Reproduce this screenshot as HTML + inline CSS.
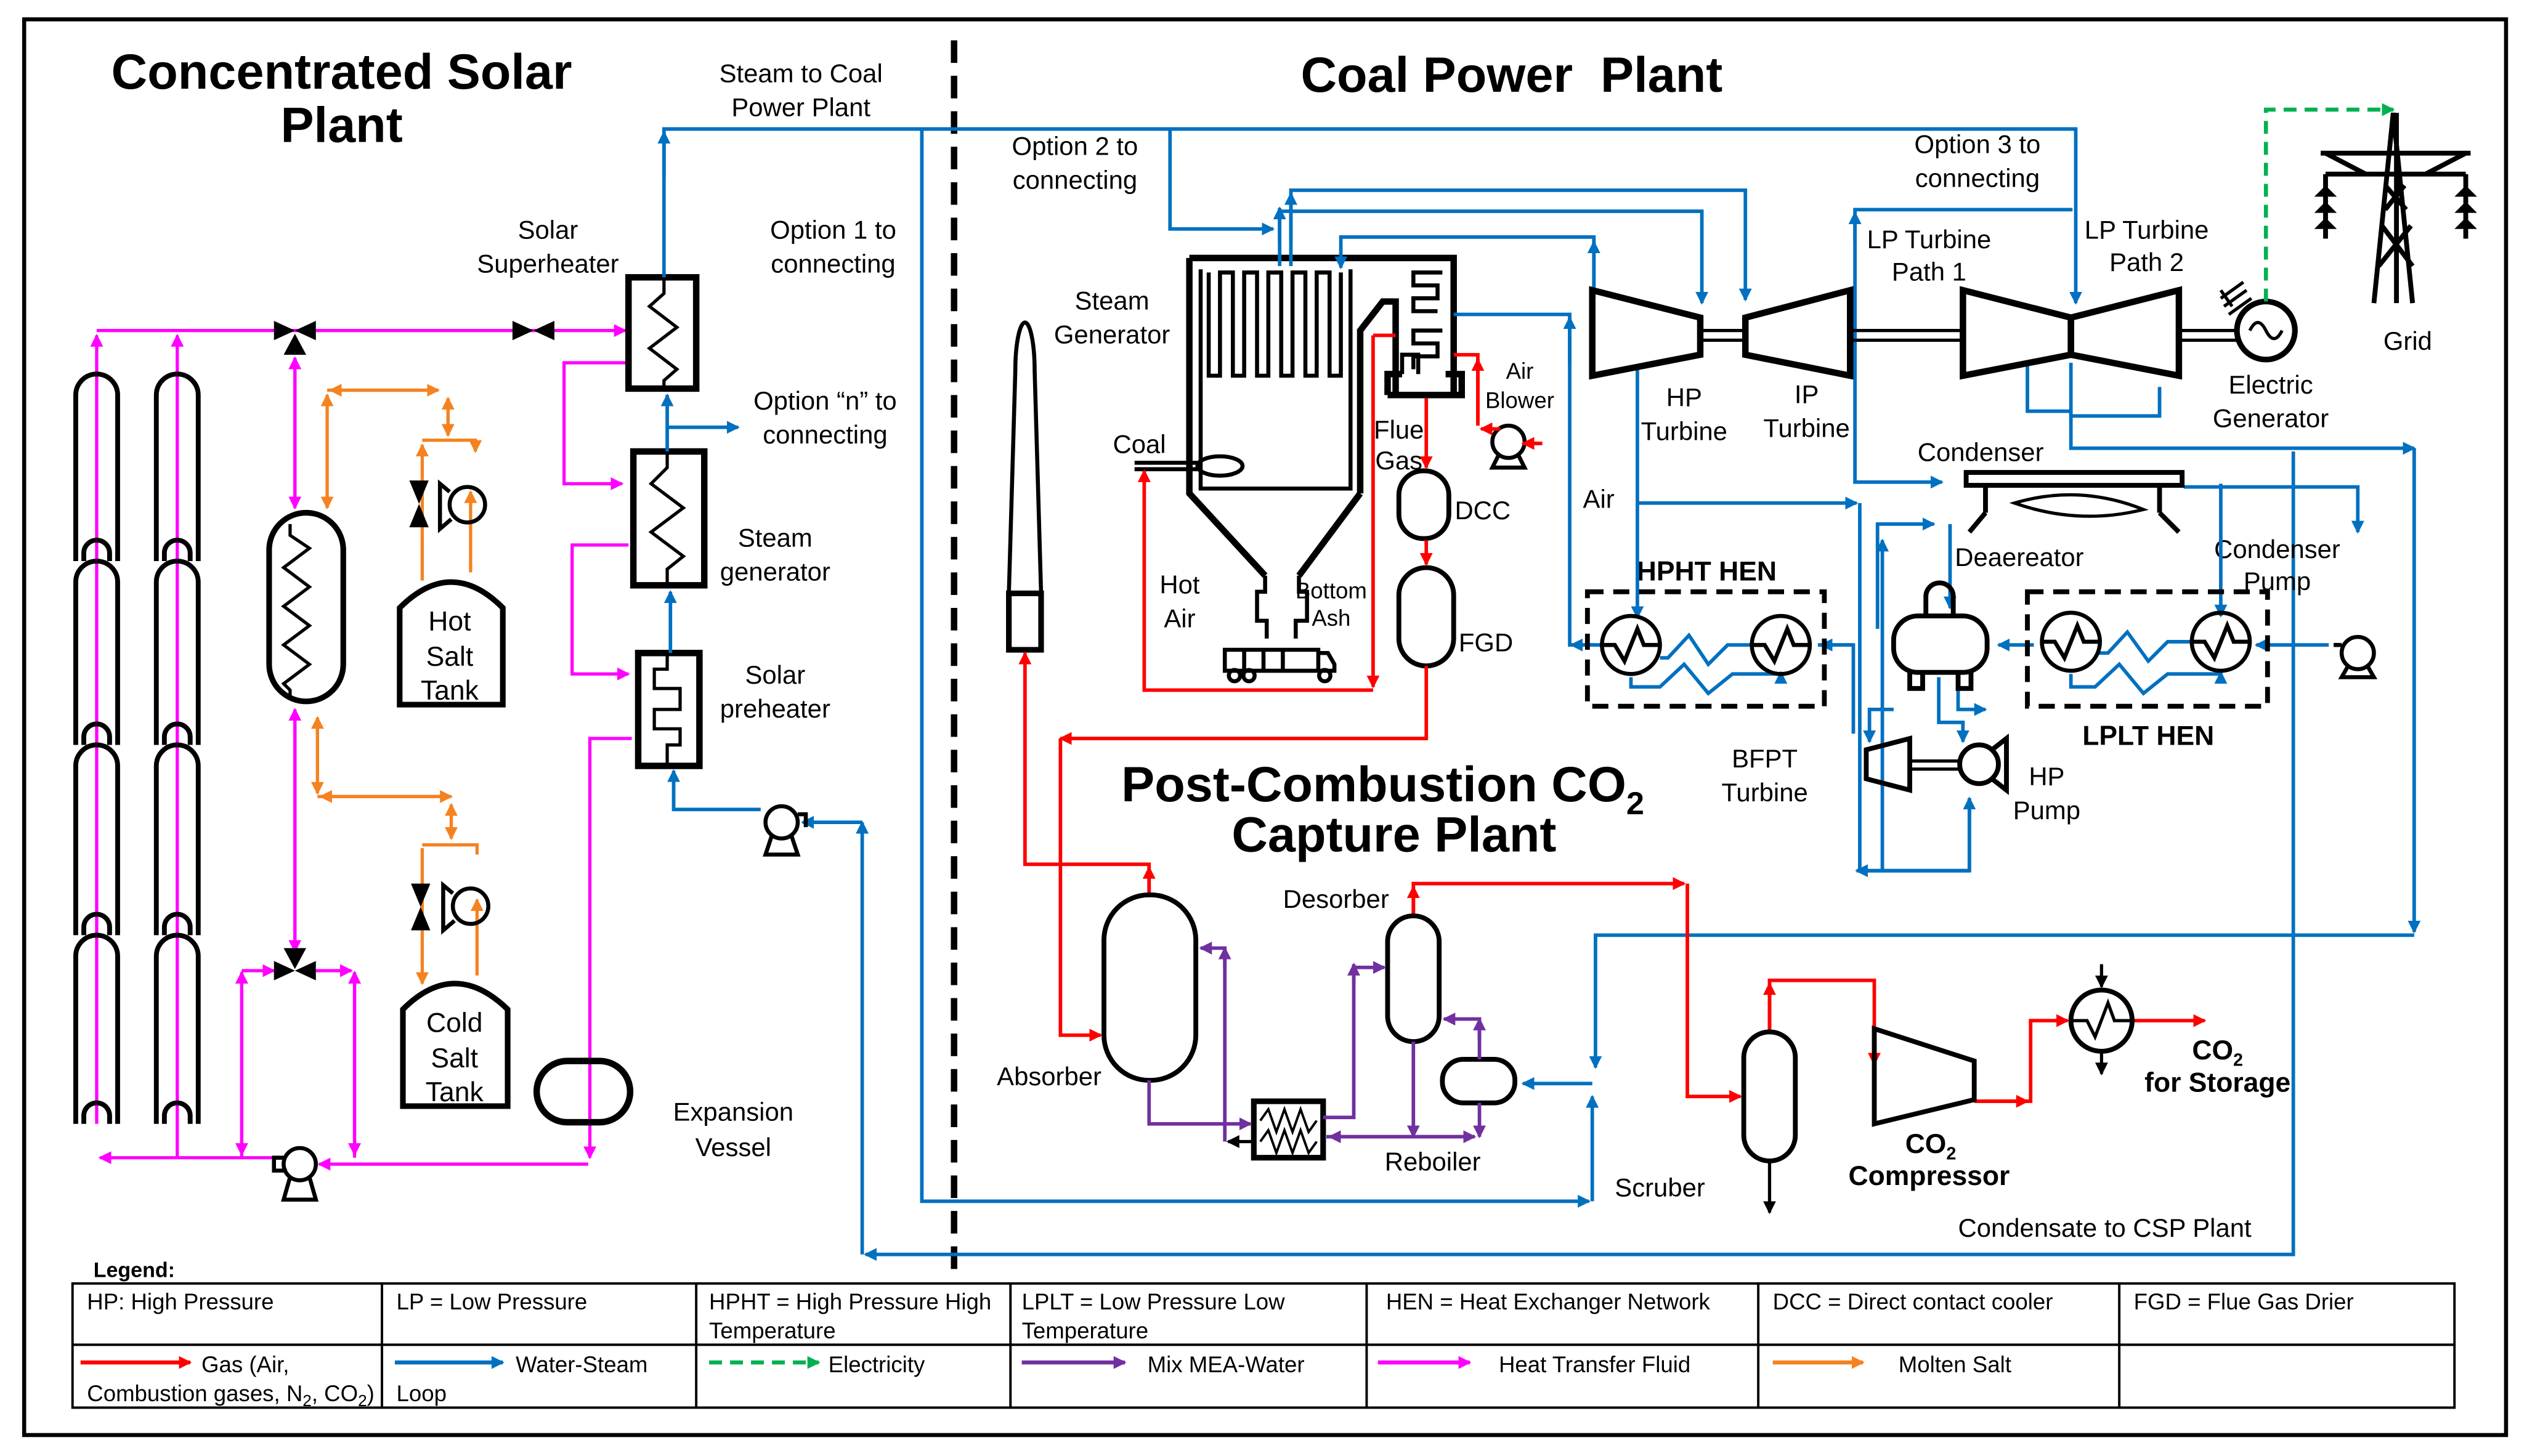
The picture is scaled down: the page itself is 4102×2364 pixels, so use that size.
<!DOCTYPE html>
<html><head><meta charset="utf-8"><style>
html,body{margin:0;padding:0;background:#fff;}
svg{display:block}
text{font-family:"Liberation Sans",sans-serif;}
</style></head><body>
<svg width="4102" height="2364" viewBox="0 0 1568 903" preserveAspectRatio="none" xmlns="http://www.w3.org/2000/svg">
<defs>
<marker id="mb" markerWidth="8" markerHeight="8" refX="7" refY="4" orient="auto" markerUnits="userSpaceOnUse"><path d="M0,0 L8,4 L0,8z" fill="#0070c0"/></marker>
<marker id="mr" markerWidth="8" markerHeight="8" refX="7" refY="4" orient="auto" markerUnits="userSpaceOnUse"><path d="M0,0 L8,4 L0,8z" fill="#ff0000"/></marker>
<marker id="mm" markerWidth="8" markerHeight="8" refX="7" refY="4" orient="auto" markerUnits="userSpaceOnUse"><path d="M0,0 L8,4 L0,8z" fill="#ff00ff"/></marker>
<marker id="mo" markerWidth="8" markerHeight="8" refX="7" refY="4" orient="auto" markerUnits="userSpaceOnUse"><path d="M0,0 L8,4 L0,8z" fill="#f58220"/></marker>
<marker id="mp" markerWidth="8" markerHeight="8" refX="7" refY="4" orient="auto" markerUnits="userSpaceOnUse"><path d="M0,0 L8,4 L0,8z" fill="#7030a0"/></marker>
<marker id="mg" markerWidth="8" markerHeight="8" refX="7" refY="4" orient="auto" markerUnits="userSpaceOnUse"><path d="M0,0 L8,4 L0,8z" fill="#00b050"/></marker>
<marker id="mk" markerWidth="8" markerHeight="8" refX="7" refY="4" orient="auto" markerUnits="userSpaceOnUse"><path d="M0,0 L8,4 L0,8z" fill="#000"/></marker>
</defs>
<rect x="15" y="12" width="1540" height="878" fill="#fff" stroke="#000" stroke-width="2.5"/>
<line x1="592" y1="25" x2="592" y2="792" stroke="#000" stroke-width="4" stroke-dasharray="14,8"/>

<!-- titles -->
<g font-weight="bold" font-size="31" text-anchor="middle">
<text x="212" y="55">Concentrated Solar</text>
<text x="212" y="88">Plant</text>
<text x="938" y="57" xml:space="preserve">Coal Power  Plant</text>
<text x="858" y="497">Post-Combustion CO<tspan font-size="20" dy="8">2</tspan></text>
<text x="865" y="528">Capture Plant</text>
</g>

<!-- collectors -->
<g fill="none" stroke="#ff00ff" stroke-width="2">
<line x1="60" y1="697" x2="60" y2="208" marker-end="url(#mm)"/>
<line x1="110" y1="718" x2="110" y2="208" marker-end="url(#mm)"/>
</g>
<g fill="none" stroke="#000" stroke-width="3">
<path d="M47,348 V245 A13,13 0 0 1 73,245 V348 M52,348 V343 A8,8 0 0 1 68,343 V348"/>
<path d="M47,462 V361 A13,13 0 0 1 73,361 V462 M52,462 V457 A8,8 0 0 1 68,457 V462"/>
<path d="M47,580 V475 A13,13 0 0 1 73,475 V580 M52,580 V575 A8,8 0 0 1 68,575 V580"/>
<path d="M47,697 V593 A13,13 0 0 1 73,593 V697 M52,697 V692 A8,8 0 0 1 68,692 V697"/>
<path d="M97,348 V245 A13,13 0 0 1 123,245 V348 M102,348 V343 A8,8 0 0 1 118,343 V348"/>
<path d="M97,462 V361 A13,13 0 0 1 123,361 V462 M102,462 V457 A8,8 0 0 1 118,457 V462"/>
<path d="M97,580 V475 A13,13 0 0 1 123,475 V580 M102,580 V575 A8,8 0 0 1 118,575 V580"/>
<path d="M97,697 V593 A13,13 0 0 1 123,593 V697 M102,697 V692 A8,8 0 0 1 118,692 V697"/>
</g>

<!-- magenta HTF -->
<g fill="none" stroke="#ff00ff" stroke-width="2">
<line x1="60" y1="205" x2="388" y2="205" marker-end="url(#mm)"/>
<line x1="183" y1="222" x2="183" y2="315" marker-end="url(#mm)"/>
<line x1="183" y1="315" x2="183" y2="222" marker-end="url(#mm)"/>
<line x1="183" y1="440" x2="183" y2="590" marker-end="url(#mm)"/>
<line x1="183" y1="590" x2="183" y2="440" marker-end="url(#mm)"/>
<line x1="175" y1="718" x2="62" y2="718" marker-end="url(#mm)"/>
<line x1="365" y1="722" x2="198" y2="722" marker-end="url(#mm)"/>
<line x1="150" y1="718" x2="150" y2="603" marker-end="url(#mm)"/>
<line x1="150" y1="603" x2="150" y2="716" marker-end="url(#mm)"/>
<line x1="220" y1="718" x2="220" y2="603" marker-end="url(#mm)"/>
<line x1="220" y1="603" x2="220" y2="716" marker-end="url(#mm)"/>
<line x1="150" y1="602" x2="170" y2="602" marker-end="url(#mm)"/>
<line x1="196" y1="602" x2="218" y2="602" marker-end="url(#mm)"/>
<path d="M388,225 H350 V300 H386" marker-end="url(#mm)"/>
<path d="M390,338 H355 V418 H390" marker-end="url(#mm)"/>
<path d="M392,458 H366 V718" marker-end="url(#mm)"/>
</g>
<!-- valves -->
<g fill="#000">
<path d="M170,199 L196,211 L196,199 L170,211z"/><path d="M176,220 L183,207 L190,220z"/>
<path d="M318,199 L344,211 L344,199 L318,211z"/>
<path d="M170,596 L196,608 L196,596 L170,608z"/><path d="M176,588 L183,601 L190,588z"/>
</g>
<!-- HX capsule -->
<rect x="167" y="318" width="46" height="117" rx="23" fill="none" stroke="#000" stroke-width="3.5"/>
<path d="M180,325 V332 L192,340 L176,352 L192,364 L176,376 L192,388 L176,400 L192,412 L176,424 L180,428 V432" fill="none" stroke="#000" stroke-width="2"/>
<!-- orange molten salt -->
<g fill="none" stroke="#f58220" stroke-width="2">
<line x1="203" y1="245" x2="203" y2="315" marker-end="url(#mo)"/>
<line x1="203" y1="315" x2="203" y2="245" marker-end="url(#mo)"/>
<line x1="203" y1="242" x2="272" y2="242" marker-end="url(#mo)"/>
<line x1="272" y1="242" x2="205" y2="242" marker-end="url(#mo)"/>
<line x1="278" y1="247" x2="278" y2="270" marker-end="url(#mo)"/>
<line x1="278" y1="270" x2="278" y2="247" marker-end="url(#mo)"/>
<path d="M262,360 V276" marker-end="url(#mo)"/>
<path d="M262,273 H295 V280" marker-end="url(#mo)"/>
<path d="M292,355 V305" marker-end="url(#mo)"/>
<line x1="197" y1="445" x2="197" y2="492" marker-end="url(#mo)"/>
<line x1="197" y1="492" x2="197" y2="445" marker-end="url(#mo)"/>
<line x1="197" y1="494" x2="280" y2="494" marker-end="url(#mo)"/>
<line x1="280" y1="494" x2="199" y2="494" marker-end="url(#mo)"/>
<line x1="280" y1="499" x2="280" y2="520" marker-end="url(#mo)"/>
<line x1="280" y1="520" x2="280" y2="499" marker-end="url(#mo)"/>
<path d="M262,526 V610" marker-end="url(#mo)"/>
<path d="M262,524 H296 V530"/>
<path d="M296,605 V558" marker-end="url(#mo)"/>
</g>
<!-- salt valves/pumps -->
<g fill="#000"><path d="M254,298 L266,298 L254,327 L266,327z"/><path d="M255,548 L267,548 L255,577 L267,577z"/></g>
<g fill="none" stroke="#000" stroke-width="2.5">
<circle cx="290" cy="313" r="11"/><path d="M279,305 L273,300 V328 L280,322"/>
<circle cx="292" cy="562" r="11"/><path d="M281,554 L275,549 V577 L282,571"/>
<path d="M248,437 V377 Q280,345 312,377 V437 Z" stroke-width="3.5"/>
<path d="M250,686 V626 Q282,594 315,626 V686 Z" stroke-width="3.5"/>
</g>
<g font-size="17" text-anchor="middle">
<text x="279" y="391">Hot</text><text x="279" y="413">Salt</text><text x="279" y="434">Tank</text>
<text x="282" y="640">Cold</text><text x="282" y="662">Salt</text><text x="282" y="683">Tank</text>
</g>
<!-- expansion vessel -->
<rect x="333" y="658" width="58" height="38" rx="19" fill="none" stroke="#000" stroke-width="4"/>
<!-- pump HTF -->
<g fill="none" stroke="#000" stroke-width="2.5"><circle cx="186" cy="722" r="10"/><path d="M180,730 L176,744 H196 L192,730 M176,718 H170 V726 H178"/></g>

<!-- solar HX boxes -->
<g fill="none" stroke="#000" stroke-width="4">
<rect x="390" y="172" width="42" height="69"/>
<rect x="393" y="280" width="44" height="83"/>
<rect x="396" y="405" width="38" height="70"/>
</g>
<g fill="none" stroke="#000" stroke-width="2">
<path d="M412,172 V182 L403,190 L420,203 L403,216 L420,229 L412,236 V241"/>
<path d="M414,280 V290 L404,300 L424,315 L404,330 L424,345 L414,353 V363"/>
<path d="M414,405 V415 L406,415 V427 L422,427 V440 L406,440 V452 L422,452 V462 L414,462 V475"/>
</g>
<!-- blue in CSP -->
<g fill="none" stroke="#0070c0" stroke-width="2.2">
<line x1="414" y1="280" x2="414" y2="245" marker-end="url(#mb)"/>
<line x1="414" y1="265" x2="458" y2="265" marker-end="url(#mb)"/>
<line x1="416" y1="405" x2="416" y2="367" marker-end="url(#mb)"/>
<path d="M472,502 H418 V478" marker-end="url(#mb)"/>
<path d="M535,510 H498" marker-end="url(#mb)"/>
<path d="M412,172 V80 H1288 V188" marker-end="url(#mb)"/>
<line x1="412" y1="110" x2="412" y2="82" marker-end="url(#mb)"/>
<path d="M535,778 V510" marker-end="url(#mb)"/>
<path d="M1423,280 V778 H537" marker-end="url(#mb)"/>
<path d="M572,80 V745 H986" marker-end="url(#mb)"/>
</g>
<g fill="none" stroke="#000" stroke-width="2.5"><circle cx="485" cy="510" r="10"/><path d="M479,518 L475,530 H495 L491,518 M495,505 H500 V513"/></g>

<g font-size="16" text-anchor="middle">
<text x="497" y="51">Steam to Coal</text><text x="497" y="72">Power Plant</text>
<text x="340" y="148">Solar</text><text x="340" y="169">Superheater</text>
<text x="517" y="148">Option 1 to</text><text x="517" y="169">connecting</text>
<text x="512" y="254">Option “n” to</text><text x="512" y="275">connecting</text>
<text x="481" y="339">Steam</text><text x="481" y="360">generator</text>
<text x="481" y="424">Solar</text><text x="481" y="445">preheater</text>
<text x="455" y="695">Expansion</text><text x="455" y="717">Vessel</text>
<text x="667" y="96">Option 2 to</text><text x="667" y="117">connecting</text>
<text x="1227" y="95">Option 3 to</text><text x="1227" y="116">connecting</text>
<text x="690" y="192">Steam</text><text x="690" y="213">Generator</text>
<text x="707" y="281">Coal</text>
<text x="732" y="368">Hot</text><text x="732" y="389">Air</text>
<text x="1045" y="252">HP</text><text x="1045" y="273">Turbine</text>
<text x="1121" y="250">IP</text><text x="1121" y="271">Turbine</text>
<text x="1197" y="154">LP Turbine</text><text x="1197" y="174">Path 1</text>
<text x="1332" y="148">LP Turbine</text><text x="1332" y="168">Path 2</text>
<text x="1409" y="244">Electric</text><text x="1409" y="265">Generator</text>
<text x="1494" y="217">Grid</text>
<text x="1229" y="286">Condenser</text>
<text x="1253" y="351">Deaereator</text>
<text x="1413" y="346">Condenser</text><text x="1413" y="366">Pump</text>
<text x="1095" y="476">BFPT</text><text x="1095" y="497">Turbine</text>
<text x="1270" y="487">HP</text><text x="1270" y="508">Pump</text>
<text x="992" y="315">Air</text>
<text x="868" y="272">Flue</text><text x="868" y="291">Gas</text>
<text x="920" y="322">DCC</text>
<text x="922" y="404">FGD</text>
<text x="829" y="563">Desorber</text>
<text x="651" y="673">Absorber</text>
<text x="889" y="726">Reboiler</text>
<text x="1030" y="742">Scruber</text>
<text x="1306" y="767">Condensate to CSP Plant</text>
</g>
<g font-size="14" text-anchor="middle">
<text x="943" y="235">Air</text><text x="943" y="253">Blower</text>
<text x="826" y="371">Bottom</text><text x="826" y="388">Ash</text>
</g>
<g font-size="17" font-weight="bold" text-anchor="middle">
<text x="1059" y="360">HPHT HEN</text>
<text x="1333" y="462">LPLT HEN</text>
<text x="1198" y="715">CO<tspan font-size="11" dy="4">2</tspan></text>
<text x="1197" y="735">Compressor</text>
<text x="1376" y="657">CO<tspan font-size="11" dy="4">2</tspan></text>
<text x="1376" y="677">for Storage</text>
</g>

<!-- boiler -->
<g fill="none" stroke="#000" stroke-width="4">
<path d="M738,160 H902 V245"/>
<path d="M738,160 V306 L785,357 M844,306 L806,357 M844,306 V205 L858,187 H866 V245"/>
<path d="M861,245 H907 V232 H897 M861,245 V232 H870"/>
</g>
<g fill="none" stroke="#000" stroke-width="2.5">
<path d="M745,167 V303 H838 V167"/>
<path d="M750,169 V233 H757 V169 H765 V233 H772 V169 H780 V233 H787 V169 H795 V233 H802 V169 H810 V233 H817 V169 H825 V233 H832 V169"/>
<path d="M895,169 H877 V177 H892 V185 H877 V193 H892 M895,205 H877 V213 H892 V221 H877 V229"/>
<path d="M870,232 V220 H880 V232"/>
<path d="M785,357 V367 H780 V385 H786 V396 M806,357 V367 H811 V385 H804 V396"/>
<ellipse cx="757" cy="289" rx="14" ry="6"/><path d="M704,287 H743 M704,291 H743"/>
<path d="M760,403 H818 V416 H760 Z M818,405 H824 L828,412 V416 H818 M772,403 V416 M784,403 V416 M796,403 V416"/>
<circle cx="766" cy="419" r="3.5"/><circle cx="775" cy="419" r="3.5"/><circle cx="822" cy="419" r="3.5"/>
</g>
<!-- stack -->
<g fill="none" stroke="#000" stroke-width="2.5">
<path d="M626,368 L630,230 A6,30 0 0 1 642,230 L646,368"/>
<rect x="626" y="368" width="20" height="35" stroke-width="3.5"/>
</g>
<!-- DCC FGD -->
<rect x="868" y="292" width="31" height="42" rx="15" fill="none" stroke="#000" stroke-width="3"/>
<rect x="868" y="352" width="34" height="61" rx="17" fill="none" stroke="#000" stroke-width="3"/>
<!-- air blower -->
<g fill="none" stroke="#000" stroke-width="2.5"><circle cx="936" cy="274" r="10"/><path d="M930,282 L926,290 H946 L942,282"/></g>

<!-- blue coal side -->
<g fill="none" stroke="#0070c0" stroke-width="2.2">
<path d="M726,80 V142 H790" marker-end="url(#mb)"/>
<path d="M794,165 V131 H1056 V188" marker-end="url(#mb)"/>
<path d="M801,165 V118 H1083 V186" marker-end="url(#mb)"/>
<line x1="794" y1="150" x2="794" y2="129" marker-end="url(#mb)"/>
<line x1="801" y1="150" x2="801" y2="120" marker-end="url(#mb)"/>
<path d="M989,178 V147 H832 V166" marker-end="url(#mb)"/>
<line x1="989" y1="185" x2="989" y2="150" marker-end="url(#mb)"/>
<path d="M902,195 H974 V400 H990" />
<line x1="974" y1="225" x2="974" y2="197" marker-end="url(#mb)"/>
<path d="M1016,227 V383" marker-end="url(#mb)"/>
<path d="M1016,312 H1152" marker-end="url(#mb)"/>
<path d="M1151,210 V130 H1286" />
<line x1="1151" y1="150" x2="1151" y2="132" marker-end="url(#mb)"/>
<path d="M1151,210 V299 H1205" marker-end="url(#mb)"/>
<path d="M1258,225 V255 H1285 V278 H1498" marker-end="url(#mb)"/>
<line x1="1498" y1="278" x2="1498" y2="578" marker-end="url(#mb)"/>
<path d="M1285,225 V258 H1340 V240"/>
<path d="M1355,302 H1463 V330" marker-end="url(#mb)"/>
<path d="M1210,325 V377" marker-end="url(#mb)"/>
<path d="M1165,390 V325 H1200" marker-end="url(#mb)"/>
<path d="M1168,540 V335" marker-end="url(#mb)"/>
<path d="M1378,300 V382" marker-end="url(#mb)"/>
<path d="M1262,400 H1240" marker-end="url(#mb)"/>
<path d="M1445,400 H1400" marker-end="url(#mb)"/>
<path d="M1128,400 H1150 V455" />
<path d="M1150,400 H1130" marker-end="url(#mb)"/>
<path d="M1154,312 V540 H1222 V495" />
<path d="M1222,540 V495" marker-end="url(#mb)"/>
<path d="M1222,540 H1152" marker-end="url(#mb)"/>
<path d="M1203,420 V448 H1218 V460" marker-end="url(#mb)"/>
<path d="M1215,420 V440 H1232" marker-end="url(#mb)"/>
<path d="M1175,440 H1160 V460" marker-end="url(#mb)"/>
<path d="M1498,580 H990 V662" marker-end="url(#mb)"/>
<line x1="988" y1="745" x2="988" y2="680" marker-end="url(#mb)"/>
<path d="M988,672 H945" marker-end="url(#mb)"/>
<path d="M1012,420 V426 H1030 L1045,412 L1060,430 L1075,418 H1105 V417" marker-end="url(#mb)"/>
<path d="M1088,400 H1072 L1060,412 L1048,394 L1035,408 H1030"/>
<path d="M1285,418 V426 H1300 L1315,412 L1330,430 L1345,418 H1378 V417" marker-end="url(#mb)"/>
<path d="M1360,398 H1345 L1333,410 L1320,392 L1308,405 H1302"/>
<path d="M995,400 H975" marker-end="url(#mb)"/>
</g>
<rect x="985" y="367" width="147" height="71" fill="none" stroke="#000" stroke-width="3" stroke-dasharray="10,6"/>
<rect x="1258" y="367" width="149" height="71" fill="none" stroke="#000" stroke-width="3" stroke-dasharray="10,6"/>
<g fill="none" stroke="#000" stroke-width="2.5">
<circle cx="1012" cy="400" r="18"/><path d="M995,400 H1002 L1008,410 L1016,390 L1020,400 H1030"/>
<circle cx="1105" cy="400" r="18"/><path d="M1088,400 H1095 L1101,410 L1109,390 L1113,400 H1123"/>
<circle cx="1285" cy="398" r="18"/><path d="M1268,398 H1275 L1281,408 L1289,388 L1293,398 H1303"/>
<circle cx="1378" cy="398" r="18"/><path d="M1361,398 H1368 L1374,408 L1382,388 L1386,398 H1396"/>
</g>
<!-- turbines -->
<g fill="none" stroke="#000" stroke-width="4">
<path d="M988,180 L1055,197 V220 L988,233 Z"/>
<path d="M1083,197 L1148,180 V233 L1083,220 Z"/>
<path d="M1218,180 L1285,197 V220 L1218,233 Z"/>
<path d="M1285,197 L1352,180 V233 L1285,220 Z"/>
</g>
<g stroke="#000" stroke-width="2">
<path d="M1055,205 H1083 M1055,211 H1083 M1148,205 H1218 M1148,211 H1218 M1352,205 H1388 M1352,211 H1388"/>
</g>
<circle cx="1406" cy="205" r="18" fill="none" stroke="#000" stroke-width="3.5"/>
<path d="M1396,205 Q1401,195 1406,205 Q1411,215 1416,205" fill="none" stroke="#000" stroke-width="2"/>
<path d="M1378,185 L1392,175 M1380,190 L1394,180 M1383,195 L1397,185 M1385,190 L1378,180" stroke="#000" stroke-width="2"/>
<!-- green -->
<path d="M1406,187 V68 H1485" fill="none" stroke="#00b050" stroke-width="2.5" stroke-dasharray="8,5" marker-end="url(#mg)"/>
<!-- tower -->
<g fill="none" stroke="#000" stroke-width="3">
<path d="M1473,188 L1485,70 L1497,188 M1487,70 V188 M1478,140 L1497,165 M1496,140 L1476,165 M1480,115 L1493,130 M1492,115 L1480,130"/>
<path d="M1440,95 H1533 M1443,108 H1530 M1443,95 L1468,108 M1530,95 L1505,108"/>
<path d="M1443,108 V148 M1530,108 V148"/>
</g>
<g fill="#000"><path d="M1436,122 H1450 L1443,115Z M1436,132 H1450 L1443,125Z M1436,142 H1450 L1443,135Z M1523,122 H1537 L1530,115Z M1523,132 H1537 L1530,125Z M1523,142 H1537 L1530,135Z"/></g>
<!-- condenser -->
<g fill="none" stroke="#000" stroke-width="3">
<rect x="1220" y="293" width="134" height="8"/>
<path d="M1232,301 V318 M1340,301 V318 M1232,318 L1222,330 M1340,318 L1352,330"/>
<path d="M1250,312 Q1290,300 1330,316 Q1290,326 1250,312 Z" stroke-width="2"/>
</g>
<!-- deaerator -->
<g fill="none" stroke="#000" stroke-width="3">
<path d="M1195,382 V370 A8,8 0 0 1 1212,370 V382"/>
<rect x="1175" y="382" width="58" height="35" rx="15"/>
<path d="M1185,417 V427 H1193 V417 M1215,417 V427 H1223 V417"/>
</g>
<!-- bfpt and hp pump -->
<g fill="none" stroke="#000" stroke-width="3">
<path d="M1158,465 L1185,458 V490 L1158,483 Z"/>
<path d="M1185,472 H1215 M1185,477 H1215" stroke-width="2"/>
<circle cx="1228" cy="474" r="12"/><path d="M1236,465 L1245,458 V490 L1236,483"/>
</g>
<!-- condenser pump -->
<g fill="none" stroke="#000" stroke-width="2.5"><circle cx="1463" cy="405" r="10"/><path d="M1457,413 L1453,420 H1473 L1469,413 M1453,400 H1448"/></g>

<!-- red gas -->
<g fill="none" stroke="#ff0000" stroke-width="2.2">
<path d="M852,208 H866"/>
<path d="M852,428 H710 V292" marker-end="url(#mr)"/>
<path d="M852,208 V426" marker-end="url(#mr)"/>
<path d="M902,220 H917 V262"/>
<path d="M917,264 V223" marker-end="url(#mr)"/>
<path d="M957,275 H945" marker-end="url(#mr)"/>
<path d="M931,266 H919" marker-end="url(#mr)"/>
<path d="M885,247 V290" marker-end="url(#mr)"/>
<path d="M885,335 V350" marker-end="url(#mr)"/>
<path d="M885,413 V458 H658" marker-end="url(#mr)"/>
<path d="M658,458 V642 H683" marker-end="url(#mr)"/>
<path d="M713,555 V536 H636 V405" marker-end="url(#mr)"/>
<path d="M713,555 V538" marker-end="url(#mr)"/>
<path d="M877,568 V548 H1045" marker-end="url(#mr)"/>
<path d="M877,568 V550" marker-end="url(#mr)"/>
<path d="M1047,548 V680 H1080" marker-end="url(#mr)"/>
<path d="M1098,640 V608 H1163 V660" marker-end="url(#mr)"/>
<path d="M1098,640 V610" marker-end="url(#mr)"/>
<path d="M1225,683 H1260 V633 H1283" marker-end="url(#mr)"/>
<path d="M1225,683 H1258" marker-end="url(#mr)"/>
<path d="M1323,633 H1368" marker-end="url(#mr)"/>
</g>
<!-- capture equipment -->
<g fill="none" stroke="#000" stroke-width="3">
<rect x="685" y="555" width="57" height="115" rx="28"/>
<rect x="861" y="568" width="32" height="78" rx="16"/>
<rect x="895" y="657" width="45" height="27" rx="13"/>
<rect x="1082" y="640" width="32" height="80" rx="16"/>
<path d="M1163,638 L1225,658 V682 L1163,697 Z"/>
<rect x="778" y="683" width="43" height="35" stroke-width="3.5"/>
<path d="M782,695 L787,688 L792,702 L797,688 L802,702 L807,688 L812,702 L817,695 M782,708 L787,701 L792,715 L797,701 L802,715 L807,701 L812,715 L817,708" stroke-width="1.5"/>
<circle cx="1304" cy="633" r="19"/><path d="M1286,633 H1295 L1300,643 L1308,622 L1312,633 H1322" stroke-width="2"/>
</g>
<g fill="none" stroke="#000" stroke-width="2">
<line x1="1304" y1="598" x2="1304" y2="612" marker-end="url(#mk)"/>
<line x1="1304" y1="653" x2="1304" y2="666" marker-end="url(#mk)"/>
<line x1="1098" y1="720" x2="1098" y2="752" marker-end="url(#mk)"/>
<line x1="778" y1="708" x2="762" y2="708" marker-end="url(#mk)"/>
</g>
<!-- purple -->
<g fill="none" stroke="#7030a0" stroke-width="2.2">
<path d="M713,670 V697 H776" marker-end="url(#mp)"/>
<path d="M760,708 V588 H745" marker-end="url(#mp)"/>
<path d="M760,600 V588" marker-end="url(#mp)"/>
<path d="M821,693 H840 V600 H859" marker-end="url(#mp)"/>
<path d="M840,610 V598" marker-end="url(#mp)"/>
<path d="M877,646 V705" marker-end="url(#mp)"/>
<path d="M823,705 H915" marker-end="url(#mp)"/>
<path d="M915,705 H825" marker-end="url(#mp)"/>
<path d="M918,684 V705" marker-end="url(#mp)"/>
<path d="M918,657 V632 H896" marker-end="url(#mp)"/>
<path d="M918,645 V632" marker-end="url(#mp)"/>
</g>

<!-- legend -->
<text x="58" y="792" font-size="13" font-weight="bold">Legend:</text>
<g fill="none" stroke="#000" stroke-width="1.5">
<rect x="45" y="796" width="1478" height="77"/>
<line x1="45" y1="834" x2="1523" y2="834"/>
<path d="M237,796 V873 M432,796 V873 M627,796 V873 M848,796 V873 M1091,796 V873 M1315,796 V873"/>
</g>
<g font-size="14">
<text x="54" y="812">HP: High Pressure</text>
<text x="246" y="812">LP = Low Pressure</text>
<text x="440" y="812">HPHT = High Pressure High</text><text x="440" y="830">Temperature</text>
<text x="634" y="812">LPLT = Low Pressure Low</text><text x="634" y="830">Temperature</text>
<text x="860" y="812">HEN = Heat Exchanger Network</text>
<text x="1100" y="812">DCC = Direct contact cooler</text>
<text x="1324" y="812">FGD = Flue Gas Drier</text>
<text x="125" y="851">Gas (Air,</text>
<text x="54" y="869">Combustion gases, N<tspan font-size="10" dy="3">2</tspan><tspan dy="-3">, CO</tspan><tspan font-size="10" dy="3">2</tspan><tspan dy="-3">)</tspan></text>
<text x="320" y="851">Water-Steam</text><text x="246" y="869">Loop</text>
<text x="514" y="851">Electricity</text>
<text x="712" y="851">Mix MEA-Water</text>
<text x="930" y="851">Heat Transfer Fluid</text>
<text x="1178" y="851">Molten Salt</text>
</g>
<g fill="none" stroke-width="2.5">
<line x1="50" y1="845" x2="118" y2="845" stroke="#ff0000" marker-end="url(#mr)"/>
<line x1="245" y1="845" x2="312" y2="845" stroke="#0070c0" marker-end="url(#mb)"/>
<line x1="440" y1="845" x2="508" y2="845" stroke="#00b050" stroke-dasharray="8,5" marker-end="url(#mg)"/>
<line x1="634" y1="845" x2="698" y2="845" stroke="#7030a0" marker-end="url(#mp)"/>
<line x1="855" y1="845" x2="912" y2="845" stroke="#ff00ff" marker-end="url(#mm)"/>
<line x1="1100" y1="845" x2="1156" y2="845" stroke="#f58220" marker-end="url(#mo)"/>
</g>
</svg>
</body></html>
